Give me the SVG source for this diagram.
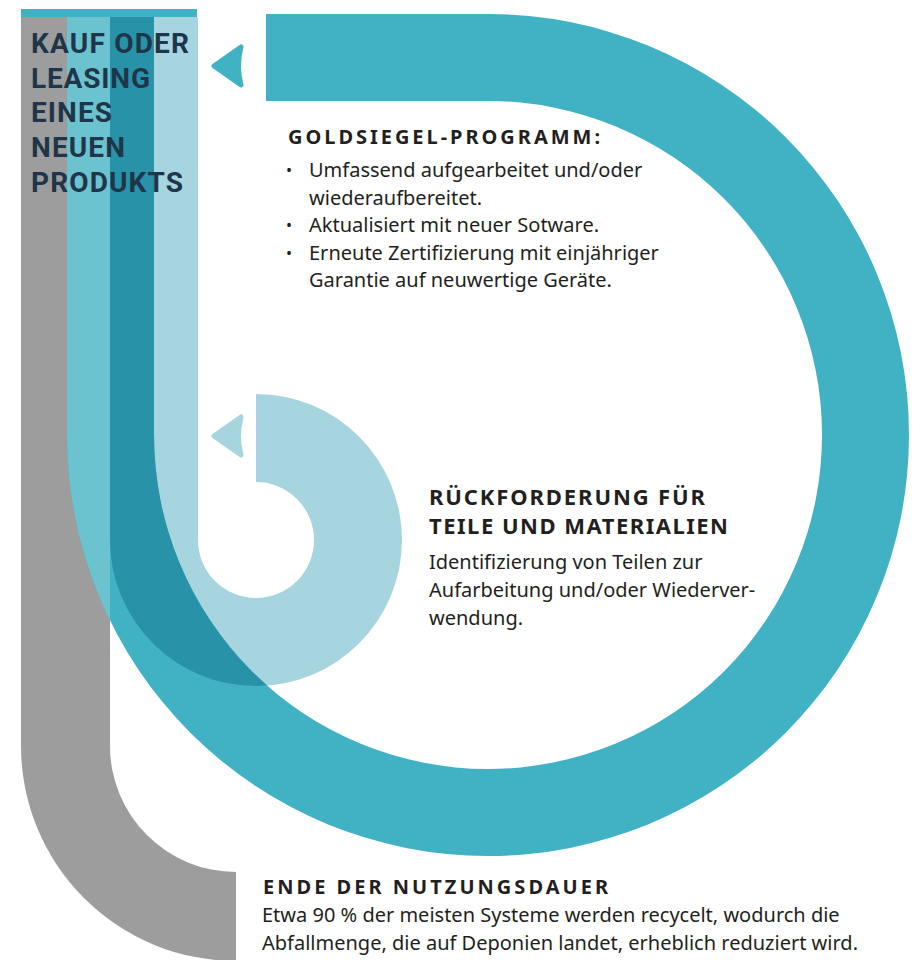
<svg xmlns="http://www.w3.org/2000/svg" xmlns:xlink="http://www.w3.org/1999/xlink" width="923" height="960" viewBox="0 0 923 960">
  <style>
    .stack { font-family: Roboto, "Noto Sans", "Liberation Sans", sans-serif; font-weight: 700; font-size: 28px; fill: #1f3549; }
    .head { font-family: "Noto Sans", "Open Sans", "Liberation Sans", sans-serif; font-weight: 700; fill: #231f20; }
    .body { font-family: "Noto Sans", "Open Sans", "Liberation Sans", sans-serif; font-weight: 400; font-size: 20px; fill: #231f20; }
    .bullet { font-family: "Noto Sans", "Open Sans", "Liberation Sans", sans-serif; font-size: 16px; fill: #231f20; }
  </style>
  <defs>
    <path id="pGray" d="M21,17 L21,746 A215,215 0 0 0 236,961 L236,872 A126,126 0 0 1 110,746 L110,17 Z"/>
    <path id="pTeal" d="M67,17 L67,435 A421,421 0 1 0 488,14 L266,14 L266,101 L488,101 A334,334 0 1 1 154,435 L154,17 Z"/>
    <path id="pBlue" d="M110,17 L110,540 A146,146 0 1 0 256,394 L256,482 A58,58 0 1 1 198,540 L198,17 Z"/>
    <clipPath id="clipGray"><use xlink:href="#pGray"/></clipPath>
    <clipPath id="clipBlue"><use xlink:href="#pBlue"/></clipPath>
  </defs>

  <g id="bands">
    <use xlink:href="#pGray" fill="#9d9d9d"/>
    <use xlink:href="#pBlue" fill="#a6d4df"/>
    <use xlink:href="#pTeal" fill="#41b2c4"/>
    <use xlink:href="#pTeal" fill="#6ac3cf" clip-path="url(#clipGray)"/>
    <use xlink:href="#pTeal" fill="#2893a8" clip-path="url(#clipBlue)"/>
    <rect x="21" y="9" width="176" height="8" fill="#41b2c4"/>
  </g>

  <g id="connectors">
    <path d="M214,66 L241,47 Q236,66 241,85 Z" fill="#41b2c4" stroke="#41b2c4" stroke-width="5" stroke-linejoin="round"/>
    <path d="M214,436 L241,417 Q236,436 241,455 Z" fill="#a6d4df" stroke="#a6d4df" stroke-width="5" stroke-linejoin="round"/>
  </g>

  <g id="node-kauf">
    <text class="stack" x="31" y="53" textLength="158" lengthAdjust="spacing">KAUF ODER</text>
    <text class="stack" x="31" y="88" textLength="119" lengthAdjust="spacing">LEASING</text>
    <text class="stack" x="31" y="122" textLength="81" lengthAdjust="spacing">EINES</text>
    <text class="stack" x="31" y="157" textLength="94" lengthAdjust="spacing">NEUEN</text>
    <text class="stack" x="31" y="192" textLength="152" lengthAdjust="spacing">PRODUKTS</text>
  </g>

  <g id="node-goldsiegel">
    <text class="head" x="288" y="144" font-size="20" textLength="312" lengthAdjust="spacing">GOLDSIEGEL-PROGRAMM:</text>
    <text class="bullet" x="286" y="176">•</text>
    <text class="body" x="309" y="177">Umfassend aufgearbeitet und/oder</text>
    <text class="body" x="309" y="204.5">wiederaufbereitet.</text>
    <text class="bullet" x="286" y="231">•</text>
    <text class="body" x="309" y="232">Aktualisiert mit neuer Sotware.</text>
    <text class="bullet" x="286" y="258.5">•</text>
    <text class="body" x="309" y="259.5">Erneute Zertifizierung mit einjähriger</text>
    <text class="body" x="309" y="287">Garantie auf neuwertige Geräte.</text>
  </g>

  <g id="node-rueckforderung">
    <text class="head" x="429" y="505" font-size="22" textLength="276" lengthAdjust="spacing">RÜCKFORDERUNG FÜR</text>
    <text class="head" x="429" y="534" font-size="22" textLength="299" lengthAdjust="spacing">TEILE UND MATERIALIEN</text>
    <text class="body" x="429" y="569">Identifizierung von Teilen zur</text>
    <text class="body" x="429" y="597">Aufarbeitung und/oder Wiederver-</text>
    <text class="body" x="429" y="625">wendung.</text>
  </g>

  <g id="node-ende">
    <text class="head" x="263" y="894" font-size="20" textLength="345" lengthAdjust="spacing">ENDE DER NUTZUNGSDAUER</text>
    <text class="body" x="262" y="922">Etwa 90 % der meisten Systeme werden recycelt, wodurch die</text>
    <text class="body" x="262" y="950">Abfallmenge, die auf Deponien landet, erheblich reduziert wird.</text>
  </g>
</svg>
